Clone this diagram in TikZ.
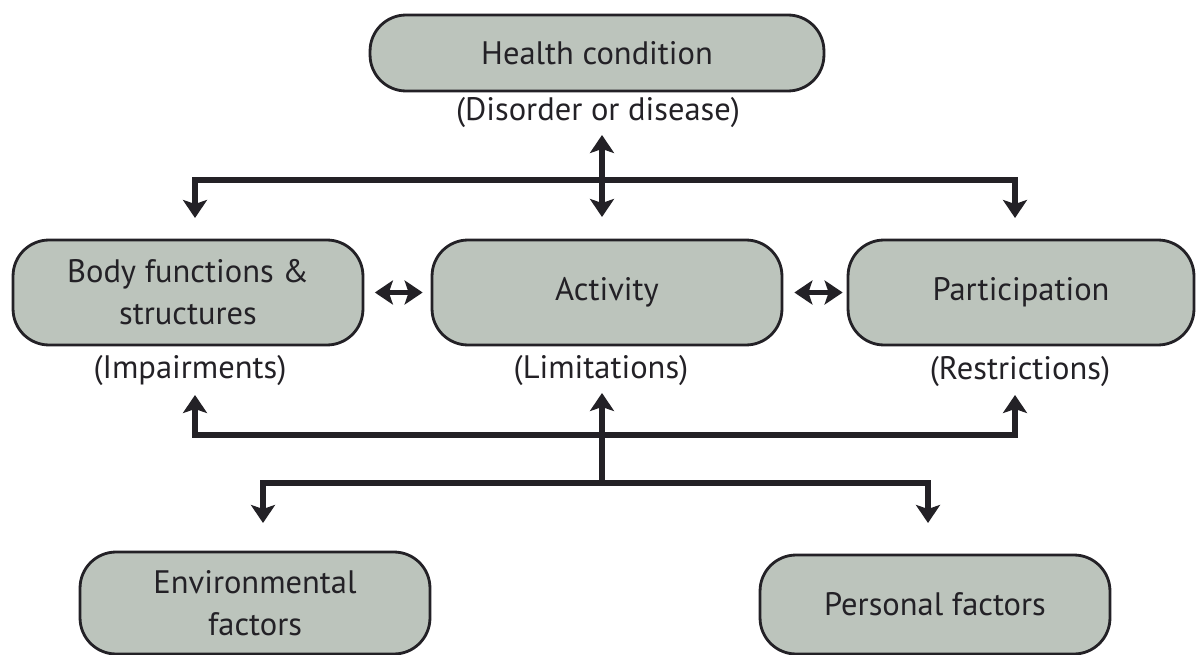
\documentclass[tikz,border=0pt]{standalone}
\usepackage{fontspec}
\setmainfont{PT Sans}
\usetikzlibrary{arrows.meta}
\definecolor{boxfill}{RGB}{188,196,188}
\definecolor{ink}{RGB}{35,33,38}
\tikzset{
  tip/.tip={Stealth[length=0.36cm,width=0.48cm,inset=0.08cm]},
  box/.style={draw=ink, fill=boxfill, line width=1.6pt, rounded corners=0.72cm,
    align=center, text=ink, inner sep=0pt, font=\fontsize{18.5}{24}\selectfont},
  lbl/.style={text=ink, inner sep=0pt, font=\fontsize{18.5}{24}\selectfont},
  conn/.style={draw=ink, line width=3.4pt, line join=miter, -tip},
  dconn/.style={draw=ink, line width=3.4pt, line join=miter, tip-tip},
  plain/.style={draw=ink, line width=3.4pt, line join=miter}
}
\begin{document}
\begin{tikzpicture}[x=0.02cm,y=-0.02cm]
\useasboundingbox[fill=white] (0,0) rectangle (1196,655);
% boxes
\node[box, minimum width=9.08cm, minimum height=1.52cm] (hc) at (597,53) {Health condition};
\node[lbl] (hcl) at (598,113) {(Disorder or disease)};
\node[box, minimum width=7cm, minimum height=2.1cm] (body) at (188,292.5) {Body functions \&\\structures};
\node[box, minimum width=7cm, minimum height=2.1cm] (act) at (607,292.5) {Activity};
\node[box, minimum width=6.92cm, minimum height=2.1cm] (part) at (1021,292.5) {Participation};
\node[lbl] (imp) at (190,371) {(Impairments)};
\node[lbl] (lim) at (601,371) {(Limitations)};
\node[lbl] (res) at (1020,372) {(Restrictions)};
\node[box, minimum width=7cm, minimum height=2.04cm] (env) at (255,603) {Environmental\\factors};
\node[box, minimum width=7cm, minimum height=1.98cm] (pers) at (935,604.5) {Personal factors};
% junctions
\coordinate (ttop) at (602,135);
\coordinate (tbot) at (602,217);
\coordinate (jt) at (602,180);
\coordinate (bt) at (195,218);
\coordinate (pt) at (1015,218);
\coordinate (jm) at (602,435);
\coordinate (jb) at (602,483);
\coordinate (ua) at (602,393);
\coordinate (ub) at (195,395);
\coordinate (uc) at (1015,395);
\coordinate (dl) at (263,523);
\coordinate (dr) at (928,523);
% connectors
\draw[dconn] (ttop) -- (tbot);
\draw[conn] (jt) -| (bt);
\draw[conn] (jt) -| (pt);
\draw[dconn] ([xshift=0.21cm]body.east) -- ([xshift=-0.16cm]act.west);
\draw[dconn] ([xshift=0.22cm]act.east) -- ([xshift=-0.08cm]part.west);
\draw[conn] (jb) -- (ua);
\draw[conn] (jm) -| (ub);
\draw[conn] (jm) -| (uc);
\draw[conn] (jb) -| (dl);
\draw[conn] (jb) -| (dr);
\end{tikzpicture}
\end{document}
